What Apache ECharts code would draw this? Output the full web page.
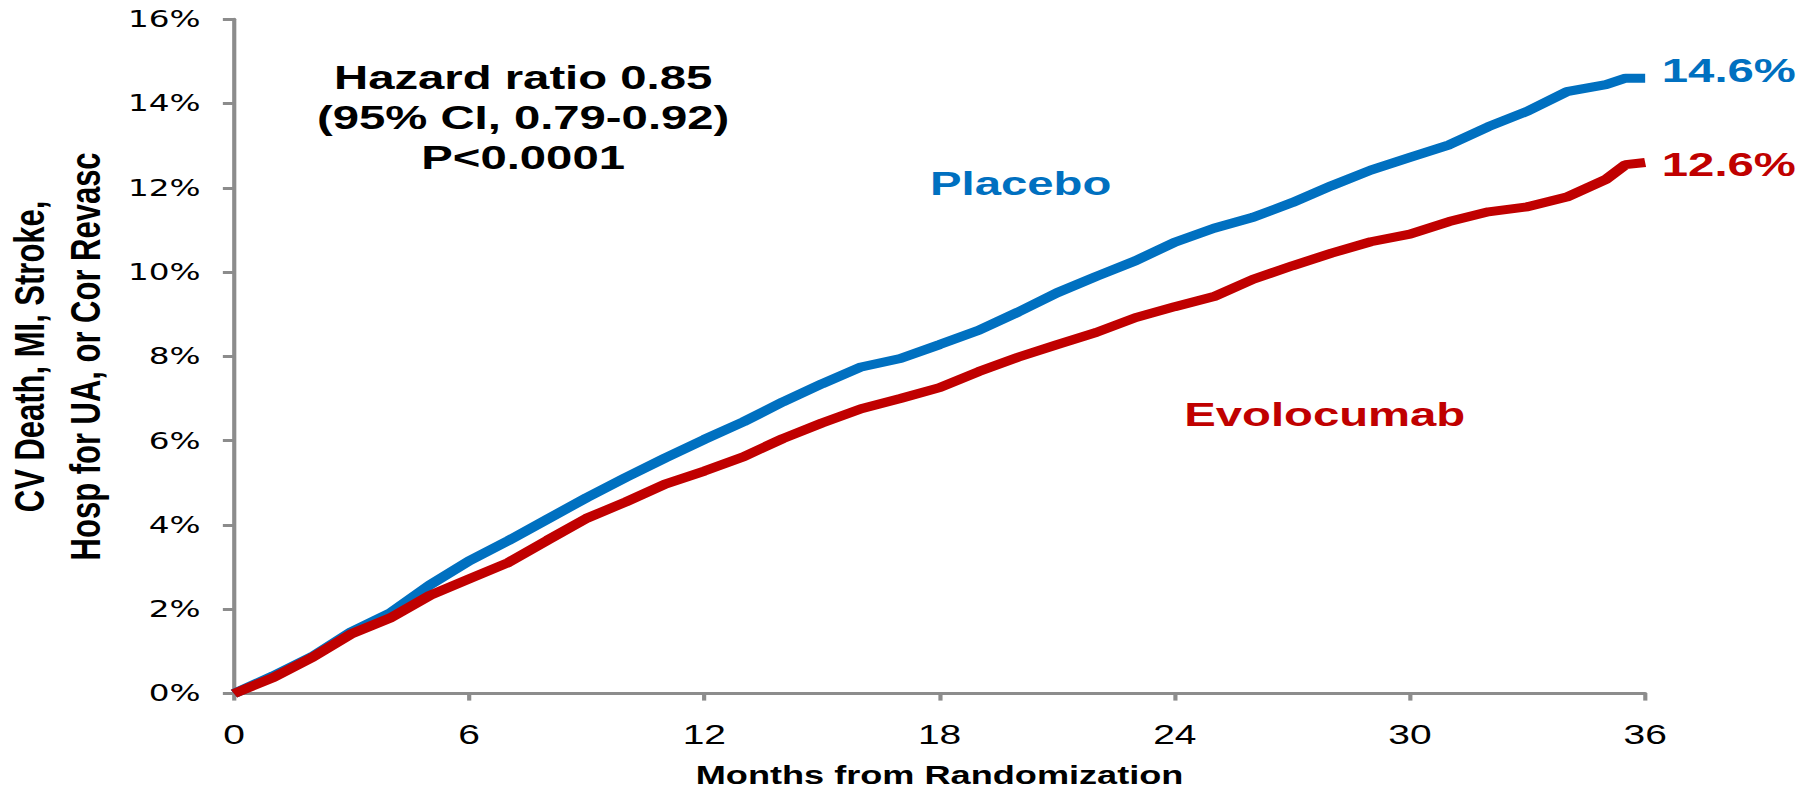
<!DOCTYPE html>
<html>
<head>
<meta charset="utf-8">
<script src="https://cdn.jsdelivr.net/npm/echarts@6/dist/echarts.min.js"></script>
<style>
  html, body { margin: 0; padding: 0; background: #fff; overflow: hidden; }
  /* The figure is laid out on a narrower canvas and widened to the page,
     which gives its type the broad, stretched look of the slide. */
  #chart { width: 1302px; height: 792px; transform: scaleX(1.3902); transform-origin: 0 0; }
</style>
</head>
<body>
<div id="chart"></div>
<script>
// Months from randomization at which the cumulative incidence is read
const months = [0, 1, 2, 3, 4, 5, 6, 7, 8, 9, 10, 11, 12, 13, 14, 15, 16, 17, 18,
  19, 20, 21, 22, 23, 24, 25, 26, 27, 28, 29, 30, 31, 32, 33, 34, 35, 35.5, 36];

// Kaplan-Meier event rates (%)
const placebo = [0, 0.42, 0.88, 1.47, 1.92, 2.58, 3.15, 3.63, 4.14, 4.65, 5.13, 5.59, 6.03,
  6.45, 6.92, 7.35, 7.75, 7.95, 8.28, 8.62, 9.05, 9.51, 9.9, 10.27, 10.71, 11.04, 11.30,
  11.65, 12.05, 12.42, 12.72, 13.02, 13.45, 13.82, 14.28, 14.45, 14.6, 14.6];
const evolocumab = [0, 0.38, 0.86, 1.42, 1.80, 2.33, 2.72, 3.11, 3.64, 4.16, 4.55, 4.97, 5.28,
  5.62, 6.05, 6.42, 6.76, 7.0, 7.26, 7.64, 7.98, 8.28, 8.57, 8.92, 9.18, 9.42, 9.83,
  10.15, 10.45, 10.72, 10.9, 11.2, 11.43, 11.55, 11.78, 12.2, 12.55, 12.6];

const seriesNames = ['Placebo', 'Evolocumab'];
const xTicks = [0, 6, 12, 18, 24, 30, 36];
const yTicks = [0, 2, 4, 6, 8, 10, 12, 14, 16];
const xTitle = 'Months from Randomization';
const yTitle = ['CV Death, MI, Stroke,', 'Hosp for UA, or Cor Revasc'];
const statsText = ['Hazard ratio 0.85', '(95% CI, 0.79-0.92)', 'P<0.0001'];

const BLUE = '#0070c0';
const RED = '#c00000';
const AXIS = '#8c8c8c';
const FONT = '"Liberation Sans", Arial, Helvetica, sans-serif';
const WIDE_FONT = '"DejaVu Sans", Verdana, sans-serif';

const pairs = (vals) => months.map((m, i) => [m, vals[i]]);

const chart = echarts.init(document.getElementById('chart'), null, { renderer: 'svg' });

function endLabel(color, dy) {
  return {
    show: true,
    formatter: (p) => p.value[1].toFixed(1) + '%',
    color: color,
    fontFamily: FONT,
    fontWeight: 'bold',
    fontSize: 34,
    distance: 12,
    offset: [0, dy]
  };
}

function note(text, x, y, color) {
  return {
    type: 'text',
    x: x,
    y: y,
    style: {
      text: text,
      x: 0, y: 0,
      textAlign: 'center', textVerticalAlign: 'middle',
      fontFamily: FONT, fontWeight: 'bold', fontSize: 34, lineHeight: 40, fill: color
    }
  };
}

chart.setOption({
  animation: false,
  backgroundColor: '#fff',
  grid: { left: 168.3, right: 118.6, top: 19.2, bottom: 98.4, containLabel: false, outerBoundsMode: 'none' },
  xAxis: {
    type: 'value',
    min: xTicks[0],
    max: xTicks[xTicks.length - 1],
    interval: 6,
    name: xTitle,
    nameLocation: 'middle',
    nameGap: 69,
    nameTextStyle: { fontFamily: FONT, fontWeight: 'bold', fontSize: 26, color: '#000' },
    axisLine: { show: true, lineStyle: { color: AXIS, width: 3 } },
    axisTick: { show: true, length: 7, lineStyle: { color: AXIS, width: 3 } },
    axisLabel: { fontFamily: FONT, fontSize: 28, color: '#000', margin: 26 },
    splitLine: { show: false }
  },
  yAxis: {
    type: 'value',
    min: yTicks[0],
    max: yTicks[yTicks.length - 1],
    interval: 2,
    name: yTitle.join('\n'),
    nameLocation: 'middle',
    nameRotate: 90,
    nameGap: 85,
    nameTextStyle: { fontFamily: FONT, fontWeight: 'bold', fontSize: 31, lineHeight: 40, color: '#000' },
    axisLine: { show: true, lineStyle: { color: AXIS, width: 3 } },
    axisTick: { show: true, length: 8, lineStyle: { color: AXIS, width: 3 } },
    axisLabel: { fontFamily: WIDE_FONT, fontSize: 23.5, color: '#000', margin: 24, formatter: '{value}%' },
    splitLine: { show: false }
  },
  series: [
    {
      name: seriesNames[1],
      type: 'line',
      data: pairs(evolocumab),
      showSymbol: false,
      lineStyle: { color: RED, width: 9 },
      itemStyle: { color: RED },
      endLabel: endLabel(RED, 2),
      z: 3
    },
    {
      name: seriesNames[0],
      type: 'line',
      data: pairs(placebo),
      showSymbol: false,
      lineStyle: { color: BLUE, width: 9 },
      itemStyle: { color: BLUE },
      endLabel: endLabel(BLUE, -8),
      z: 2
    }
  ],
  graphic: [
    note(statsText.join('\n'), 376.3, 117, '#000'),
    note(seriesNames[0], 734.2, 183, BLUE),
    note(seriesNames[1], 952.9, 414.5, RED)
  ]
});
</script>
</body>
</html>
